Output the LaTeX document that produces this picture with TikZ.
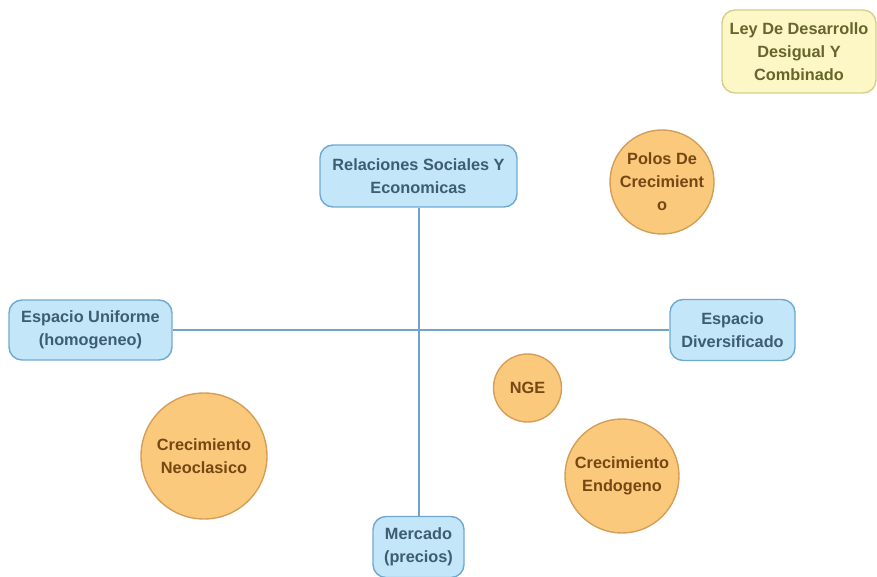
\documentclass[tikz,border=0pt]{standalone}
\usepackage{fontspec}
\setmainfont{Liberation Sans}
\definecolor{bfill}{HTML}{C3E6F9}
\definecolor{bdraw}{HTML}{6FA9D2}
\definecolor{btext}{HTML}{3E5C72}
\definecolor{ofill}{HTML}{FBC97C}
\definecolor{odraw}{HTML}{D49E58}
\definecolor{otext}{HTML}{754713}
\definecolor{yfill}{HTML}{FCF7C5}
\definecolor{ydraw}{HTML}{D6CE8E}
\definecolor{ytext}{HTML}{66652C}
\definecolor{lcol}{HTML}{73A3CD}
\begin{document}
\begin{tikzpicture}[x=1pt,y=-1pt,
  txt/.style={font=\fontsize{16.3}{23}\selectfont\bfseries, align=center, inner sep=0pt},
  bluebox/.style={txt, draw=bdraw, fill=bfill, line width=1.4pt, rounded corners=13pt, text=btext},
  yellowbox/.style={txt, draw=ydraw, fill=yfill, line width=1.4pt, rounded corners=13pt, text=ytext},
  orangec/.style={txt, circle, draw=odraw, fill=ofill, line width=1.4pt, text=otext},
  conn/.style={draw=lcol, line width=2pt}]
\useasboundingbox (0,0) rectangle (877,577);
\node[bluebox, minimum width=197pt, minimum height=62pt] (rel) at (418.5,176) {Relaciones Sociales Y\\Economicas};
\node[bluebox, minimum width=163pt, minimum height=60pt] (uni) at (90.5,330) {Espacio Uniforme\\(homogeneo)};
\node[bluebox, minimum width=125pt, minimum height=61pt] (div) at (732.5,330) {Espacio\\Diversificado};
\node[bluebox, minimum width=91pt, minimum height=61pt] (mer) at (418.5,547) {Mercado\\(precios)};
\node[yellowbox, minimum width=154pt, minimum height=83pt] (ley) at (799,51.5) {Ley De Desarrollo\\Desigual Y\\Combinado};
\node[orangec, minimum size=104pt] (pol) at (662,182) {Polos De\\Crecimient\\o};
\node[orangec, minimum size=68pt] (nge) at (527.5,388) {NGE};
\node[orangec, minimum size=126pt] (neo) at (204,456) {Crecimiento\\Neoclasico};
\node[orangec, minimum size=114pt] (end) at (622,476) {Crecimiento\\Endogeno};
\coordinate (c) at (418.5,330);
\draw[conn] (rel.south) -- (c);
\draw[conn] (c) -- (mer.north);
\draw[conn] (uni.east) -- (c);
\draw[conn] (c) -- (div.west);
\end{tikzpicture}
\end{document}
